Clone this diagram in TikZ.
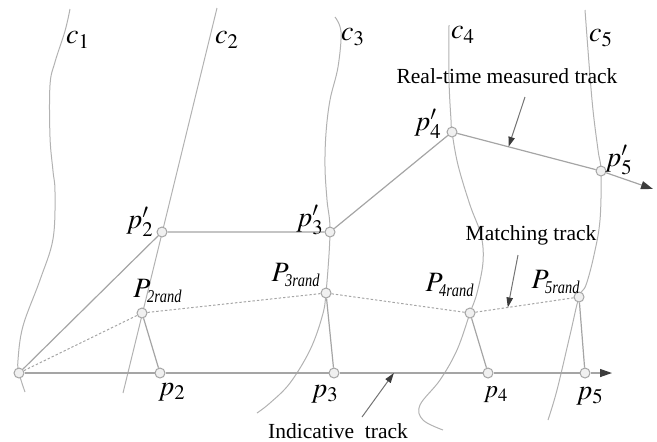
\documentclass[tikz,border=0pt]{standalone}
\usepackage{graphicx}
\usepackage{mathptmx}
\usepackage{fontspec}
\setmainfont{Liberation Serif}
\usetikzlibrary{arrows.meta,positioning}
\definecolor{lanegray}{RGB}{178,178,178}
\definecolor{trackgray}{RGB}{165,165,165}
\definecolor{tipgray}{RGB}{60,60,60}
\newcommand{\randsub}[1]{\hbox{\fontsize{9}{10}\selectfont\itshape\scalebox{0.8}[1]{#1rand}}}

\begin{document}
\begin{tikzpicture}[x=0.5pt,y=-0.5pt,
   pt/.style={circle,draw=trackgray,fill=black!6,inner sep=0pt,minimum size=5pt,line width=0.5pt},
   lane/.style={draw=lanegray,line width=0.5pt},
   track/.style={draw=trackgray,line width=0.6pt},
   randtrack/.style={track,line width=0.5pt,dash pattern=on 1.2pt off 1pt},
   endtip/.style={-{Triangle[length=6pt,width=4pt,fill=tipgray,color=tipgray]}},
   note/.style={draw=black!55,line width=0.5pt,-{Triangle[length=5pt,width=3.2pt,fill=tipgray,color=tipgray]}},
   lbl/.style={inner sep=0pt,font=\fontsize{14}{16}\selectfont},
   txt/.style={inner sep=0pt,font=\fontsize{10.75}{12}\selectfont}]
  \useasboundingbox (0,0) rectangle (657,441);

  \draw[lane] plot[smooth,tension=0.6] coordinates {(70,9) (65,31) (55,62) (50,85) (50,137) (53,171) (55,192) (53,239) (40,280) (23,326) (18,360) (19,373) (25,392)};
  \draw[lane] (217,8) -- (123,393);
  \draw[lane] plot[smooth,tension=0.6] coordinates {(335,17) (341,32) (338,67) (330,100) (326,133) (325,167) (327,200) (330,232) (326,293) (322,317) (310,350) (290,383) (270,403) (257,413)};
  \draw[lane] plot[smooth,tension=0.6] coordinates {(449,25) (449,80) (451,120) (452,132) (458,165) (470,205) (481,235) (483,262) (477,293) (470,313) (457,350) (440,380) (420,405) (423,420) (443,430)};
  \draw[lane] plot[smooth,tension=0.6] coordinates {(585,10) (592,100) (598,150) (601,171) (600,220) (594,255) (586,285) (579,297) (570,335) (557,390) (548,420)};

  \node[lbl] (c1) at (78,40) {$c_1$};
  \node[lbl] (c2) at (227,40) {$c_2$};
  \node[lbl] (c3) at (353,37) {$c_3$};
  \node[lbl] (c4) at (463,35) {$c_4$};
  \node[lbl] (c5) at (601,38) {$c_5$};

  \node[pt] (O) at (19,373) {};
  \node[pt] (p2) at (160,373) {};
  \node[pt] (p3) at (334,373) {};
  \node[pt] (p4) at (488,373) {};
  \node[pt] (p5) at (585,373) {};
  \node[pt] (P2) at (142,313) {};
  \node[pt] (P3) at (326,293) {};
  \node[pt] (P4) at (470,313) {};
  \node[pt] (P5) at (579,297) {};
  \node[pt] (p2p) at (162,232) {};
  \node[pt] (p3p) at (330,232) {};
  \node[pt] (p4p) at (452,132) {};
  \node[pt] (p5p) at (601,171) {};
  \coordinate (indEnd) at (612,373);
  \coordinate (realEnd) at (653,189);

  \draw[track,endtip] (O) -- (p2) -- (p3) -- (p4) -- (p5) -- (indEnd);
  \draw[track] (O) -- (p2p) -- (p3p) -- (p4p) -- (p5p);
  \draw[track,endtip] (p5p) -- (realEnd);
  \draw[randtrack] (O) -- (P2) -- (P3) -- (P4) -- (P5);
  \draw[track] (P2) -- (p2) (P3) -- (p3) (P4) -- (p4) (P5) -- (p5);

  \node[lbl] (l2p) at (p2p) [xshift=-11pt,yshift=5pt] {$p'_2$};
  \node[lbl] (l3p) at (p3p) [xshift=-10pt,yshift=6pt] {$p'_3$};
  \node[lbl] (l4p) at (p4p) [xshift=-12pt,yshift=4pt] {$p'_4$};
  \node[lbl] (l5p) at (p5p) [xshift=9pt,yshift=5.5pt] {$p'_5$};
  \node[lbl] (L2) at (P2) [xshift=8pt,yshift=11pt] {$P_{\randsub{2}}$};
  \node[lbl] (L3) at (P3) [xshift=-15pt,yshift=9pt] {$P_{\randsub{3}}$};
  \node[lbl] (L4) at (P4) [xshift=-10pt,yshift=14pt] {$P_{\randsub{4}}$};
  \node[lbl] (L5) at (P5) [xshift=-11.5pt,yshift=7.5pt] {$P_{\randsub{5}}$};
  \node[lbl] (l2) at (p2) [xshift=6pt,yshift=-9.5pt] {$p_2$};
  \node[lbl] (l3) at (p3) [xshift=-4.5pt,yshift=-10.5pt] {$p_3$};
  \node[lbl,font=\fontsize{12.5}{14}\selectfont] (l4) at (p4) [xshift=4pt,yshift=-11pt] {$p_4$};
  \node[lbl] (l5) at (p5) [xshift=2.5pt,yshift=-11.5pt] {$p_5$};

  \node[txt] (realtxt) at (507,76) {Real-time measured track};
  \node[txt] (matchtxt) at (531,235) {Matching track};
  \node[txt] (indtxt) at (338,431) {Indicative\ \ track};
  \coordinate (realTail) at (525,97);
  \coordinate (matchTail) at (518,255);
  \coordinate (indTail) at (362,417);
  \path (p4p) -- (p5p) coordinate[pos=0.37] (realTip);
  \path (P4) -- (P5) coordinate[pos=0.33] (matchTip);
  \path (p3) -- (p4) coordinate[pos=0.38] (indTip);
  \draw[note] (realTail) -- (realTip);
  \draw[note] (matchTail) -- (matchTip);
  \draw[note] (indTail) -- (indTip);
\end{tikzpicture}
\end{document}
